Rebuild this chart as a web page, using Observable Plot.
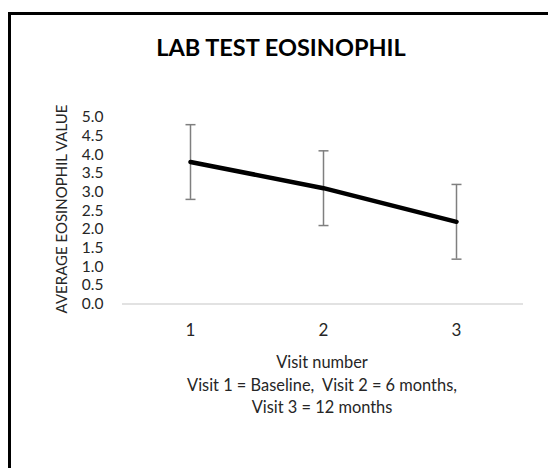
<!DOCTYPE html>
<html>
<head>
<meta charset="utf-8">
<script src="https://cdn.jsdelivr.net/npm/d3@7"></script>
<script src="https://cdn.jsdelivr.net/npm/@observablehq/plot@0.6"></script>
<style>
  html, body { margin: 0; padding: 0; background: #fff; overflow: hidden; }
  #wrap { position: relative; width: 548px; height: 468px; }
  #border { position: absolute; left: 8px; top: 12px; width: 600px; height: 600px;
            border-left: 3.5px solid #000; border-top: 3px solid #000; box-sizing: border-box; }
  #chart { position: absolute; left: 0; top: 0; }
</style>
</head>
<body>
<div id="wrap"><div id="border"></div><div id="chart"></div></div>
<script>
const visits = [1, 2, 3];
const means = [3.8, 3.1, 2.2];
const errors = [1.0, 1.0, 1.0];
const yTicks = [0, 0.5, 1, 1.5, 2, 2.5, 3, 3.5, 4, 4.5, 5];
const title = "LAB TEST EOSINOPHIL";
const yLabel = "AVERAGE EOSINOPHIL VALUE";
const xLabelLines = ["Visit number", "Visit 1 = Baseline,  Visit 2 = 6 months,", "Visit 3 = 12 months"];

const data = visits.map((v, i) => ({visit: v, mean: means[i], lo: means[i] - errors[i], hi: means[i] + errors[i]}));
const FONT = "Lato, 'Open Sans', sans-serif";
const capSymbol = {draw(ctx, size) { const r = 5; ctx.moveTo(-r, 0); ctx.lineTo(r, 0); }};

const svg = Plot.plot({
  width: 548,
  height: 468,
  marginLeft: 122,
  marginRight: 25,
  marginTop: 116.7,
  marginBottom: 164.5,
  style: {fontFamily: FONT, fontSize: "17px", color: "#262626", background: "transparent"},
  x: {type: "point", domain: visits, padding: 0.5, label: null, tickSize: 0, tickPadding: 20},
  y: {domain: [0, 5], ticks: yTicks, tickFormat: d3.format(".1f"), label: null, tickSize: 0, tickPadding: 19},
  marks: [
    Plot.axisY({ticks: yTicks, tickFormat: d3.format(".1f"), tickSize: 0, tickPadding: 19, fontSize: 15.5, label: null}),
    Plot.ruleY([0], {stroke: "#d9d9d9", strokeWidth: 1.5}),
    Plot.ruleX(data, {x: "visit", y1: "lo", y2: "hi", stroke: "#7f7f7f", strokeWidth: 1.5}),
    Plot.dot(data, {x: "visit", y: "lo", symbol: capSymbol, fill: "none", stroke: "#7f7f7f", strokeWidth: 1.5}),
    Plot.dot(data, {x: "visit", y: "hi", symbol: capSymbol, fill: "none", stroke: "#7f7f7f", strokeWidth: 1.5}),
    Plot.line(data, {x: "visit", y: "mean", stroke: "#000", strokeWidth: 4.5})
  ]
});

const s = d3.select(svg);
s.append("text").attr("x", 281).attr("y", 47).attr("text-anchor", "middle").attr("dominant-baseline", "central")
  .attr("font-family", FONT).attr("font-weight", "bold").attr("font-size", 23.5).attr("fill", "#000").text(title);
s.append("text").attr("transform", "translate(61,209) rotate(-90)").attr("text-anchor", "middle").attr("dominant-baseline", "central")
  .attr("font-family", FONT).attr("font-size", 15).attr("fill", "#262626").text(yLabel);
const baselines = [368, 391, 413];
xLabelLines.forEach((t, i) => {
  s.append("text").attr("x", 322).attr("y", baselines[i]).attr("text-anchor", "middle")
    .attr("font-family", FONT).attr("font-size", 16.4).attr("fill", "#262626").style("white-space", "pre").text(t);
});
document.getElementById("chart").appendChild(svg);
</script>
</body>
</html>
